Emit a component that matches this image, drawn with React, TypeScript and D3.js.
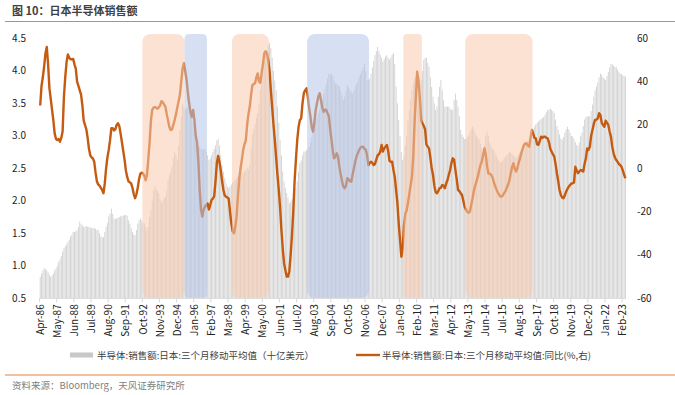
import React from 'react'
import * as d3 from 'd3'

// monthly categories Apr-86 .. Apr-23
const fmtMonth = d3.timeFormat('%b-%y')
const months = d3.timeMonth.range(new Date(1986, 3, 1), new Date(2023, 4, 1)).map(fmtMonth)

// 半导体:销售额:日本:三个月移动平均值 (十亿美元), left axis
const salesJP: number[] = [
  0.83, 0.88, 0.93, 0.96, 0.95, 0.93, 0.90, 0.86, 0.83, // 1986 Apr-Dec
  0.85, 0.88, 0.93, 0.96, 1.00, 1.06, 1.10, 1.15, 1.22, 1.27, 1.30, 1.33,
  1.37, 1.40, 1.45, 1.48, 1.52, 1.52, 1.53, 1.55, 1.60, 1.68, 1.64, 1.62,
  1.60, 1.60, 1.61, 1.60, 1.60, 1.59, 1.58, 1.58, 1.58, 1.57, 1.55, 1.55,
  1.50, 1.45, 1.44, 1.44, 1.52, 1.60, 1.66, 1.76, 1.80, 1.88, 1.80, 1.73, // 1990
  1.72, 1.73, 1.74, 1.75, 1.76, 1.77, 1.77, 1.78, 1.78, 1.77, 1.70, 1.65,
  1.58, 1.52, 1.48, 1.47, 1.55, 1.65, 1.70, 1.73, 1.70, 1.66, 1.65, 1.60,
  1.55, 1.60, 1.75, 1.86, 2.00, 2.15, 2.22, 2.18, 2.15, 2.12, 2.02, 1.96,
  2.00, 2.04, 2.06, 2.15, 2.32, 2.40, 2.45, 2.52, 2.65, 2.76, 2.70, 2.63,
  2.85, 3.09, 3.30, 3.50, 3.45, 3.40, 3.42, 3.45, 3.45, 3.38, 3.30, 3.20, // 1995
  3.10, 3.00, 2.92, 2.85, 2.83, 2.80, 2.78, 2.80, 2.80, 2.75, 2.70, 2.63,
  2.65, 2.70, 2.75, 2.80, 2.85, 2.93, 2.95, 2.85, 2.70, 2.55, 2.45, 2.35,
  2.27, 2.22, 2.20, 2.22, 2.25, 2.28, 2.30, 2.32, 2.35, 2.38, 2.40, 2.42,
  2.44, 2.42, 2.45, 2.47, 2.50, 2.48, 2.55, 2.80, 3.02, 3.10, 3.18, 3.28,
  3.35, 3.50, 3.70, 3.85, 4.00, 4.15, 4.25, 4.30, 4.40, 4.43, 4.35, 4.20, // 2000
  4.00, 3.85, 3.70, 3.45, 3.20, 2.94, 2.70, 2.45, 2.30, 2.20, 2.12, 2.05,
  1.96, 1.98, 2.02, 2.06, 2.10, 2.20, 2.30, 2.45, 2.58, 2.62, 2.70, 2.76,
  2.76, 2.78, 2.80, 2.83, 2.90, 2.98, 3.05, 3.12, 3.20, 3.28, 3.35, 3.40,
  3.48, 3.56, 3.64, 3.72, 3.80, 3.88, 3.96, 3.94, 3.96, 3.92, 3.85, 3.80,
  3.80, 3.78, 3.76, 3.70, 3.62, 3.55, 3.60, 3.70, 3.78, 3.74, 3.70, 3.68, // 2005
  3.65, 3.70, 3.75, 3.80, 3.85, 3.91, 3.95, 4.00, 4.05, 4.11, 4.00, 3.86,
  3.86, 3.88, 3.95, 4.05, 4.15, 4.24, 4.30, 4.37, 4.30, 4.25, 4.20, 4.14,
  4.18, 4.22, 4.24, 4.20, 4.17, 4.20, 4.25, 4.27, 4.10, 3.76, 3.50, 3.24,
  3.00, 2.75, 2.63, 2.70, 2.85, 3.00, 3.24, 3.40, 3.55, 3.70, 3.81, 3.88,
  3.92, 3.96, 3.94, 3.90, 3.86, 4.00, 4.17, 4.20, 4.20, 4.12, 4.06, 3.90, // 2010
  3.75, 3.60, 3.50, 3.40, 3.45, 3.60, 3.75, 3.86, 3.70, 3.55, 3.45, 3.45,
  3.45, 3.45, 3.42, 3.40, 3.40, 3.55, 3.65, 3.55, 3.45, 3.30, 3.09, 3.02,
  2.98, 2.95, 2.95, 2.98, 3.00, 3.05, 3.10, 3.14, 3.10, 3.04, 3.00, 2.97,
  2.94, 2.88, 2.80, 2.75, 2.85, 3.00, 3.06, 3.00, 2.89, 2.85, 2.80, 2.78,
  2.74, 2.70, 2.65, 2.62, 2.58, 2.60, 2.62, 2.65, 2.68, 2.70, 2.72, 2.75, // 2015
  2.74, 2.72, 2.70, 2.68, 2.66, 2.68, 2.72, 2.76, 2.80, 2.84, 2.88, 2.90,
  2.92, 2.92, 2.94, 2.98, 3.04, 3.10, 3.14, 3.18, 3.20, 3.22, 3.24, 3.26,
  3.27, 3.29, 3.32, 3.36, 3.40, 3.40, 3.42, 3.40, 3.38, 3.35, 3.25, 3.15,
  3.09, 3.02, 2.96, 2.94, 2.98, 3.05, 3.10, 3.14, 3.10, 3.05, 3.00, 2.99,
  2.95, 2.90, 2.86, 2.84, 2.90, 3.00, 3.05, 3.15, 3.25, 3.29, 3.30, 3.30, // 2020
  3.30, 3.38, 3.48, 3.60, 3.70, 3.76, 3.82, 3.90, 3.96, 3.94, 3.90, 3.88,
  3.86, 3.92, 3.98, 4.05, 4.11, 4.10, 4.08, 4.06, 4.06, 4.02, 3.98, 3.96,
  3.95, 3.93, 3.92, 3.91, // 2023 Jan-Apr
]

// 同比 (%), right axis
const salesYoY: number[] = [
  29, 38, 42, 47, 53, 56, 48, 37, 32, // 1986 Apr-Dec
  27, 22, 16, 13.5, 13, 13.5, 12.3, 14, 17, 33, 42, 49,
  52.5, 51, 50.3, 50.3, 50.5, 48, 46, 40, 38, 36, 34, 29,
  22, 20, 18, 14, 9, 6, 5, 4.5, 3, -2, -6, -7.5,
  -8, -9, -10, -11.5, -7, 0, 5, 8.5, 13, 18.5, 18.5, 17.5, // 1990
  18, 20, 20.8, 19.5, 16, 12, 8, 4, -1, -4, -6, -6.5,
  -7, -9, -12, -13.8, -12, -9, -5, -2.5, -2, -2.3, -3.5, -5.5,
  -3, 4, 12, 22, 27, 28, 28.2, 28, 27.5, 28.2, 29, 31,
  30.5, 29.5, 28.4, 25, 22, 19, 17.7, 18, 20, 22.3, 25, 28,
  31, 34, 40, 46, 48.5, 45, 41, 35, 30, 26, 23.8, 26.9, // 1995
  22.3, 15, 12, 3, -10, -19, -22.3, -19, -17.7, -17, -16.2, -19,
  -17, -14.6, -14, -13, -6, 2.3, 5.7, 3, -1, -6, -10, -12.5,
  -13.1, -13.5, -14, -20, -25.4, -29, -30, -27, -22.3, -13, -5, 0,
  4, 8.5, 11, 13, 20, 25, 28.4, 34, 38.4, 39, 39.2, 42,
  43.8, 40, 39.5, 44, 48, 53, 54, 53, 50, 45, 36, 28, // 2000
  20, 13, 5, -3, -10, -18, -28.5, -37, -43.8, -47, -50, -50,
  -47.5, -40, -31, -20, -6, 4, 13, 19, 22.3, 23, 30, 34.6,
  36, 36.9, 33, 28, 24, 19, 16.9, 21, 26.9, 30, 33, 34.6,
  31.5, 28, 26.1, 27, 26.9, 25.4, 24, 18, 13, 8, 4.6, 5.5,
  6.9, 5, 0.7, -3, -6, -8.5, -9.2, -8, -4.6, -5, -6, -6.2, // 2005
  -3, 0, 3, 5.5, 6.9, 8.5, 9.5, 10, 10, 9, 8.5, 6,
  1.5, 2.5, 3, 2.5, 1.5, 2, 4, 6, 6.5, 7.7, 10.8, 7.7,
  9.2, 10, 10.8, 8, 3.5, 3, 3, -0.8, -4, -10, -16, -25.4,
  -33, -40.8, -37, -26, -21, -19.5, -16, -12, -8, -4, 5, 20.8,
  33, 44.6, 40, 33, 22, 20.8, 19.5, 18, 11, 10, 9.2, 5, // 2010
  0, -3, -8, -11, -11.5, -10.5, -9.2, -9, -7.7, -8, -9.2, -7,
  -5.4, -3, -0.8, 2.5, 4.6, 4, -0.8, -5, -10, -10.5, -11.5, -12.3,
  -15, -17.7, -19, -20, -20.5, -20, -17, -14, -10.5, -8, -6, -4,
  -1, 1.5, 3, 6, 9.2, 6.5, 1, -2.3, -2.5, -3, -3.9, -6,
  -8, -9.5, -11, -12, -13, -13.1, -12.5, -11.5, -10.5, -9, -7.5, -5.5, // 2015
  -2.3, 0.5, 2.3, 0, -1.5, 0, 2.5, 4.6, 7, 9, 10.8, 11.5,
  11.5, 10.5, 10, 14, 17.7, 16, 14, 13.8, 11, 10.8, 12.5, 14.6,
  14, 14.6, 14.6, 14, 13.8, 12, 9, 7.7, 6.5, 5.4, 2, -2.3,
  -6, -10, -12.3, -13.5, -13.8, -12.5, -10.8, -9.5, -8.5, -7.7, -7, -6.9,
  -6.5, 0.7, -1, -2.3, -1.5, -0.8, -1, -1.5, 2, 4.6, 9.2, 8.5, // 2020
  10, 15, 17.7, 20.5, 22.3, 22.5, 23, 25.4, 24.6, 21, 20, 19.2,
  22, 21, 20, 17, 14.6, 10, 6.9, 5, 3.8, 3, 2, 1.5,
  0.7, -1, -3, -4.6, // 2023 Jan-Apr
]

const tickLabels = [
  'Apr-86', 'May-87', 'Jun-88', 'Jul-89', 'Aug-90', 'Sep-91', 'Oct-92', 'Nov-93', 'Dec-94',
  'Jan-96', 'Feb-97', 'Mar-98', 'Apr-99', 'May-00', 'Jun-01', 'Jul-02', 'Aug-03', 'Sep-04',
  'Oct-05', 'Nov-06', 'Dec-07', 'Jan-09', 'Feb-10', 'Mar-11', 'Apr-12', 'May-13', 'Jun-14',
  'Jul-15', 'Aug-16', 'Sep-17', 'Oct-18', 'Nov-19', 'Dec-20', 'Jan-22', 'Feb-23',
]
const leftTicks = [0.5, 1.0, 1.5, 2.0, 2.5, 3.0, 3.5, 4.0, 4.5]
const rightTicks = [-60, -40, -20, 0, 20, 40, 60]

// shaded periods
const shadeFrom = ['Oct-92', 'Jun-95', 'Jun-98', 'Mar-03', 'Apr-09', 'Mar-13']
const shadeTo = ['May-95', 'Oct-96', 'Sep-00', 'Jan-07', 'May-10', 'May-17']
const shadeKind = ['up', 'down', 'up', 'down', 'up', 'up']

const W = 675
const H = 395
const FONT = '"Noto Sans CJK SC", "Noto Sans", sans-serif'
const LINE_COLOR = '#C55A11'

export default function App() {
  const top = 38.3
  const bottom = 298.3
  const step = 1.319
  const x = d3.scaleBand<string>().domain(months).range([40 - step / 2, 40 + (months.length - 0.5) * step]).padding(0.3)
  const xc = (m: string) => (x(m) ?? 0) + x.bandwidth() / 2
  const yL = d3.scaleLinear().domain([0.5, 4.5]).range([bottom, top])
  const yR = d3.scaleLinear().domain([-60, 60]).range([bottom, top])

  const line = d3.line<number>()
    .x((_, i) => xc(months[i]))
    .y((d) => yR(d))

  return (
    <svg width={W} height={H} style={{ position: 'absolute', left: 0, top: 0, fontFamily: FONT }}>
      <rect width={W} height={H} fill="#fff" />
      <text x={12} y={15} fontSize={11} fontWeight="bold" fill="#404040">图 10：日本半导体销售额</text>
      <line x1={5} x2={W} y1={21.5} y2={21.5} stroke="#E8823C" strokeWidth={1} />

      {/* bars */}
      <g>
        {salesJP.map((v, i) => (
          <rect key={i} x={x(months[i])} width={x.bandwidth()} y={yL(v)} height={bottom - yL(v)} fill="#d2d2d2" />
        ))}
      </g>

      <path d={line(salesYoY) || ''} fill="none" stroke={LINE_COLOR} strokeWidth={2.4} strokeLinejoin="round" />

      {/* shaded periods */}
      <g>
        {shadeFrom.map((f, k) => {
          const x0 = xc(f) - step / 2
          const x1 = xc(shadeTo[k]) + step / 2
          const w = x1 - x0
          return (
            <rect key={k} x={x0} y={34} width={w} height={bottom - 34} rx={Math.min(8, w / 5)}
              fill={shadeKind[k] === 'up' ? 'rgb(248,203,173)' : 'rgb(180,199,231)'} fillOpacity={0.55} />
          )
        })}
      </g>

      {/* x axis */}
      <line x1={x.range()[0]} x2={x.range()[1]} y1={bottom} y2={bottom} stroke="#d9d9d9" />
      {tickLabels.map((t) => (
        <g key={t}>
          <line x1={xc(t) - step / 2} x2={xc(t) - step / 2} y1={bottom} y2={bottom + 4} stroke="#d9d9d9" />
          <text transform={`translate(${xc(t) + 3.5},${bottom + 6}) rotate(-90)`} textAnchor="end" fontSize={10} fill="#222">{t}</text>
        </g>
      ))}

      {leftTicks.map((t) => (
        <text key={t} x={26} y={yL(t) + 3.5} textAnchor="end" fontSize={10} fill="#222">{d3.format('.1f')(t)}</text>
      ))}
      {rightTicks.map((t) => (
        <text key={t} x={637} y={yR(t) + 3.5} textAnchor="start" fontSize={10} fill="#222">{t}</text>
      ))}

      {/* legend */}
      <rect x={70} y={352.5} width={23} height={5} fill="#c8c8c8" />
      <text x={97} y={358.5} fontSize={9.5} fill="#404040">半导体:销售额:日本:三个月移动平均值（十亿美元）</text>
      <line x1={356} x2={380} y1={355} y2={355} stroke={LINE_COLOR} strokeWidth={2.4} />
      <text x={382} y={358.5} fontSize={9.5} fill="#404040">半导体:销售额:日本:三个月移动平均值:同比(%,右)</text>

      <line x1={5} x2={W} y1={375} y2={375} stroke="#E8823C" strokeWidth={1} />
      <text x={12} y={389} fontSize={9.5} fill="#7f7f7f">资料来源：Bloomberg，天风证券研究所</text>
    </svg>
  )
}
